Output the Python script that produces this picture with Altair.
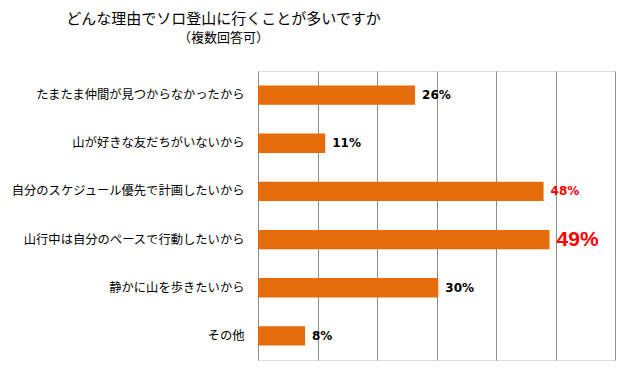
import altair as alt
import pandas as pd

categories = [
    "たまたま仲間が見つからなかったから",
    "山が好きな友だちがいないから",
    "自分のスケジュール優先で計画したいから",
    "山行中は自分のペースで行動したいから",
    "静かに山を歩きたいから",
    "その他",
]
values = [26.4, 11.3, 48.0, 49.0, 30.3, 7.9]
labels = ["26%", "11%", "48%", "49%", "30%", "8%"]
label_colors = ["#000000", "#000000", "#FF0000", "#FF0000", "#000000", "#000000"]
label_big = [False, False, False, True, False, False]
grid_values = [0, 10, 20, 30, 40, 50, 60]

df = pd.DataFrame({
    "category": categories,
    "value": values,
    "label": labels,
    "color": label_colors,
    "big": label_big,
})

y_enc = alt.Y(
    "category:N", sort=None, title=None,
    scale=alt.Scale(paddingInner=0.6, paddingOuter=0.3),
    axis=alt.Axis(labelFont="Noto Sans CJK JP", labelFontSize=12.3, labelColor="#000000",
                  labelPadding=14, ticks=False, domain=False, labelLimit=400),
)
x_enc = alt.X(
    "value:Q", title=None,
    scale=alt.Scale(domain=[0, 60], nice=False),
    axis=alt.Axis(values=grid_values, grid=True, gridColor="#8c8c8c", gridWidth=1,
                  labels=False, ticks=False, domain=False),
)

base = alt.Chart(df).encode(y=y_enc)

bars = base.mark_bar(color="#E46C0A").encode(x=x_enc)

small = base.transform_filter("!datum.big").mark_text(
    align="left", baseline="middle", dx=7, font="DejaVu Sans", fontWeight="bold", fontSize=12
).encode(x=alt.X("value:Q"), text="label:N", color=alt.Color("color:N", scale=None))

big = base.transform_filter("datum.big").mark_text(
    align="left", baseline="middle", dx=7, font="Liberation Sans", fontWeight="bold", fontSize=21
).encode(x=alt.X("value:Q"), text="label:N", color=alt.Color("color:N", scale=None))

chart = alt.layer(bars, small, big).properties(
    width=357,
    height=289,
    autosize=alt.AutoSizeParams(type="none"),
    padding={"left": 250, "top": 63, "right": 8, "bottom": 4},
    title=alt.TitleParams(
        text="どんな理由でソロ登山に行くことが多いですか",
        subtitle="（複数回答可）",
        font="Noto Sans CJK JP", fontSize=15, fontWeight="normal", color="#000000",
        subtitleFont="Noto Sans CJK JP", subtitleFontSize=13, subtitleColor="#000000",
        subtitlePadding=5,
        anchor="middle", dx=-213, offset=26,
    ),
).configure_view(stroke=None).configure(background="white")

chart.save("out.html", embed_options={"renderer": "svg", "actions": False})
